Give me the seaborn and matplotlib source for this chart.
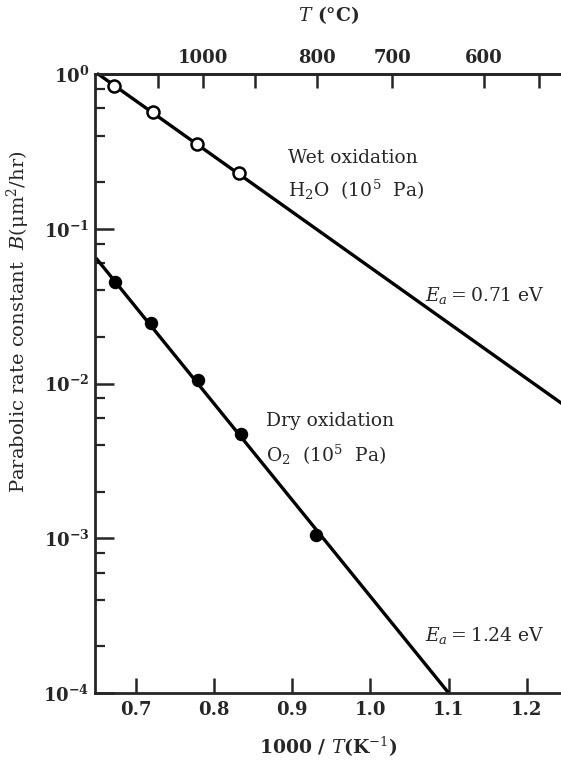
import numpy as np
import pandas as pd
import matplotlib
matplotlib.use("Agg")
import matplotlib.pyplot as plt
import seaborn as sns
from matplotlib.ticker import LogLocator, FixedLocator, NullFormatter

# ---- data ----
wet_x = [0.672, 0.722, 0.778, 0.832]
wet_y = [0.84, 0.57, 0.355, 0.228]
dry_x = [0.674, 0.719, 0.779, 0.834, 0.931]
dry_y = [0.045, 0.0245, 0.0105, 0.0047, 0.00105]

wet_line_x = [0.652, 1.245]
wet_line_y = [1.0, 0.0074]
dry_line_x = [0.65, 1.10]
dry_line_y = [0.064, 1.0e-4]

x_ticks = [0.7, 0.8, 0.9, 1.0, 1.1, 1.2]
x_tick_labels = ["0.7", "0.8", "0.9", "1.0", "1.1", "1.2"]
top_major = [1000, 800, 700, 600]
top_minor = [1100, 900, 550]

sns.set_style("ticks")
plt.rcParams["font.family"] = ["DejaVu Serif"]
plt.rcParams["mathtext.fontset"] = "dejavuserif"

fig = plt.figure(figsize=(5.61, 7.66), dpi=100)
ax = fig.add_axes([95 / 561, 1 - 693 / 766, 1 - 95 / 561 + 0.002, (693 - 74) / 766])

wet_pts = pd.DataFrame({"x": wet_x, "y": wet_y})
dry_pts = pd.DataFrame({"x": dry_x, "y": dry_y})
wet_ln = pd.DataFrame({"x": wet_line_x, "y": wet_line_y})
dry_ln = pd.DataFrame({"x": dry_line_x, "y": dry_line_y})

sns.lineplot(data=wet_ln, x="x", y="y", ax=ax, color="black", lw=2.4, clip_on=False)
sns.lineplot(data=dry_ln, x="x", y="y", ax=ax, color="black", lw=2.4, clip_on=False)
sns.scatterplot(data=wet_pts, x="x", y="y", ax=ax, marker="o", s=75,
                facecolor="white", edgecolor="black", linewidth=1.8, zorder=5)
sns.scatterplot(data=dry_pts, x="x", y="y", ax=ax, marker="o", s=75,
                color="black", edgecolor="black", linewidth=1.0, zorder=5)

ax.set_yscale("log")
ax.set_xlim(0.648, 1.245)
ax.set_ylim(1e-4, 1.0)

ax.yaxis.set_major_locator(LogLocator(base=10, numticks=10))
ax.yaxis.set_minor_locator(LogLocator(base=10, subs=[2, 4, 6, 8], numticks=10))
ax.yaxis.set_minor_formatter(NullFormatter())
ax.set_xticks(x_ticks)
ax.set_xticklabels(x_tick_labels)

for s in ["left", "bottom", "top"]:
    ax.spines[s].set_linewidth(2.0)
ax.spines["right"].set_visible(False)

ax.tick_params(axis="y", which="major", direction="in", length=14, width=1.8,
               labelsize=13, pad=4)
ax.tick_params(axis="y", which="minor", direction="in", length=7, width=1.6)
ax.tick_params(axis="x", which="major", direction="in", length=11, width=1.8,
               labelsize=13, pad=6, top=False)
ax.tick_params(axis="x", which="minor", bottom=False, top=False)
for lab in ax.get_xticklabels() + ax.get_yticklabels():
    lab.set_fontweight("bold")

ax.set_xlabel(r"1000 / $T$(K$^{-1}$)", fontsize=13.5, fontweight="bold")
ax.xaxis.set_label_coords(0.5, -0.068)
ax.set_ylabel(r"Parabolic rate constant  $B$($\mathrm{\mu m^2/hr}$)", fontsize=14)
ax.yaxis.set_label_coords(-0.135, 0.60)

def to_c(x):
    x = np.asarray(x, dtype=float)
    with np.errstate(divide="ignore"):
        return 1000.0 / x - 273.15

def to_inv(t):
    t = np.asarray(t, dtype=float)
    with np.errstate(divide="ignore"):
        return 1000.0 / (t + 273.15)

top = ax.secondary_xaxis("top", functions=(to_c, to_inv))
top.xaxis.set_major_locator(FixedLocator(top_major))
top.xaxis.set_minor_locator(FixedLocator(top_minor))
top.xaxis.set_minor_formatter(NullFormatter())
top.set_xticklabels([str(t) for t in top_major])
top.tick_params(which="major", direction="in", length=10, width=1.8, labelsize=13, pad=5)
top.tick_params(which="minor", direction="in", length=10, width=1.8)
for lab in top.get_xticklabels():
    lab.set_fontweight("bold")
top.spines["top"].set_linewidth(2.0)
top.set_xlabel(r"$T$ (°C)", fontsize=13.5, fontweight="bold", labelpad=20)

fs = 13.5
ax.text(0.895, 0.285, "Wet oxidation", fontsize=fs, ha="left", va="center")
ax.text(0.895, 0.178, r"H$_2$O  (10$^5$  Pa)", fontsize=fs, ha="left", va="center")
ax.text(1.07, 0.037, r"$E_a = 0.71$ eV", fontsize=fs, ha="left", va="center")
ax.text(0.866, 0.0057, "Dry oxidation", fontsize=fs, ha="left", va="center")
ax.text(0.866, 0.00345, r"O$_2$  (10$^5$  Pa)", fontsize=fs, ha="left", va="center")
ax.text(1.07, 2.35e-4, r"$E_a = 1.24$ eV", fontsize=fs, ha="left", va="center")

fig.savefig("out.png", dpi=100)
